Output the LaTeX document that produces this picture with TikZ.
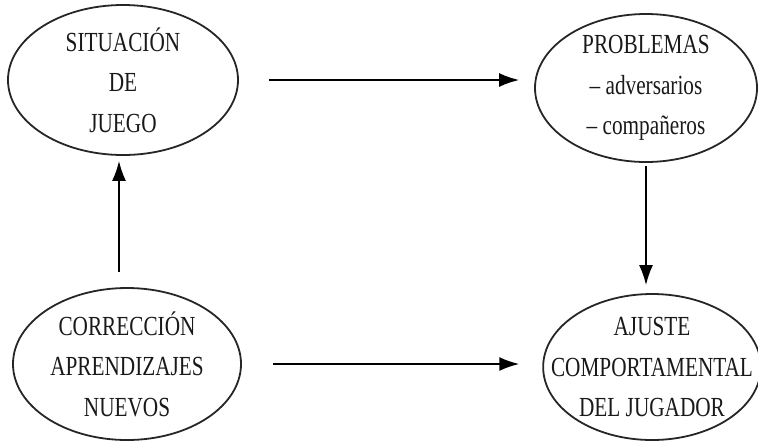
\documentclass[tikz,border=0pt]{standalone}
\usepackage{fontspec}
\setmainfont{Liberation Serif}[FakeStretch=0.77]
\usepackage{tikz}
\usetikzlibrary{arrows.meta,shapes.geometric}
\tikzset{
  bubble/.style={draw=black!85,line width=0.9pt,ellipse,inner xsep=-12pt,inner ysep=-6pt,align=center,text=black!90},
  flow/.style={-{Latex[length=10pt,width=7pt]},line width=0.9pt}
}

\begin{document}
\begin{tikzpicture}[x=0.5pt,y=0.5pt,font=\fontsize{13.8}{20.3}\selectfont]
\useasboundingbox (0,0) rectangle (758,-440);
% the four stages
\node[bubble,minimum width=115pt,minimum height=75pt] (sit) at (123,-80) {SITUACIÓN\\DE\\JUEGO};
\node[bubble,minimum width=111pt,minimum height=74pt] (prob) at (646,-88) {PROBLEMAS\\– adversarios\\– compañeros};
\node[bubble,minimum width=114pt,minimum height=76pt] (corr) at (127,-364) {CORRECCIÓN\\APRENDIZAJES\\NUEVOS};
\node[bubble,minimum width=107pt,minimum height=73pt] (aju) at (652,-367) {AJUSTE\\COMPORTAMENTAL\\DEL JUGADOR};
% arrows
\draw[flow] ([xshift=15pt]sit.east) -- ([xshift=-7.5pt]sit.east -| prob.west);
\draw[flow] ([yshift=-1.5pt]prob.south) -- ([yshift=4pt]prob.south |- aju.north);
\draw[flow] ([xshift=15.5pt]corr.east) -- ([xshift=-11.5pt]corr.east -| aju.west);
\draw[flow] ([xshift=-4pt,yshift=7.5pt]corr.north) -- ([xshift=-4pt,yshift=-2.5pt]corr.north |- sit.south);
\end{tikzpicture}
\end{document}
